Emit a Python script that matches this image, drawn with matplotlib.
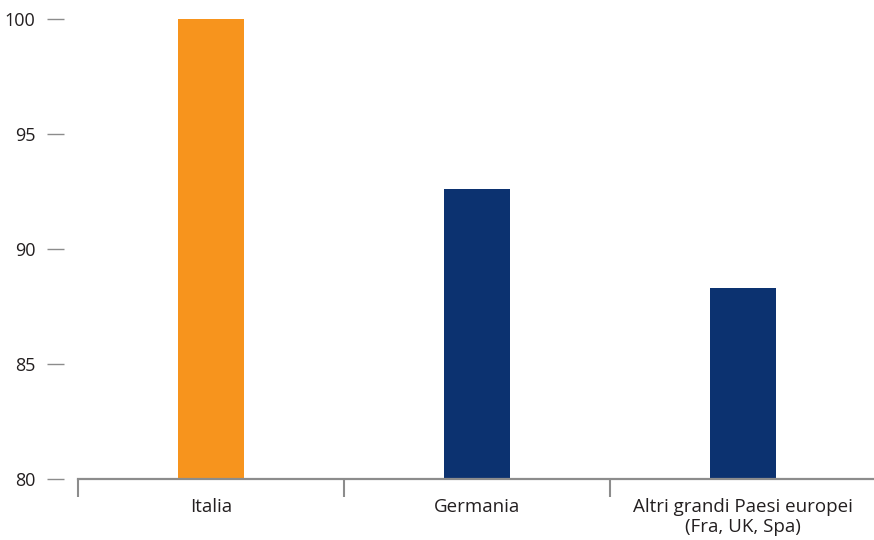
import matplotlib
matplotlib.use("Agg")
import matplotlib.pyplot as plt
from matplotlib.ticker import FixedLocator

categories = ["Italia", "Germania", "Altri grandi Paesi europei\n(Fra, UK, Spa)"]
values = [100.0, 92.6, 88.3]
colors = ["#F7941D", "#0C3270", "#0C3270"]
yticks = [80, 85, 90, 95, 100]

plt.rcParams['font.family'] = ['Open Sans', 'DejaVu Sans']

W, H = 874, 540
fig = plt.figure(figsize=(W / 100, H / 100), dpi=100)
ax = fig.add_axes([78 / W, (H - 479) / H, 798 / W, 460 / H])

x = list(range(len(categories)))
ax.bar(x, [v - 80 for v in values], bottom=80, width=0.245, color=colors)

ax.set_xlim(-0.5, len(categories) - 0.5)
ax.set_ylim(80, 100)

for s in ["top", "right"]:
    ax.spines[s].set_visible(False)
ax.spines["left"].set_visible(False)
ax.spines["left"].set_position(("outward", 10))
ax.spines["bottom"].set_color("#8c8c8c")
ax.spines["bottom"].set_linewidth(1.6)

ax.set_yticks(yticks)
ax.set_yticklabels([str(t) for t in yticks])
ax.tick_params(axis="y", length=12.5, width=1.0, color="#8c8c8c", pad=8,
               labelsize=13, labelcolor="#231F20")

ax.set_xticks(x)
ax.set_xticklabels(categories, linespacing=1.1)
ax.tick_params(axis="x", which="major", length=0, pad=14, labelsize=13.5,
               labelcolor="#231F20")
ax.xaxis.set_minor_locator(FixedLocator([-0.5, 0.5, 1.5]))
ax.tick_params(axis="x", which="minor", length=13, width=1.5, color="#8c8c8c")

fig.savefig("out.png", dpi=100)
